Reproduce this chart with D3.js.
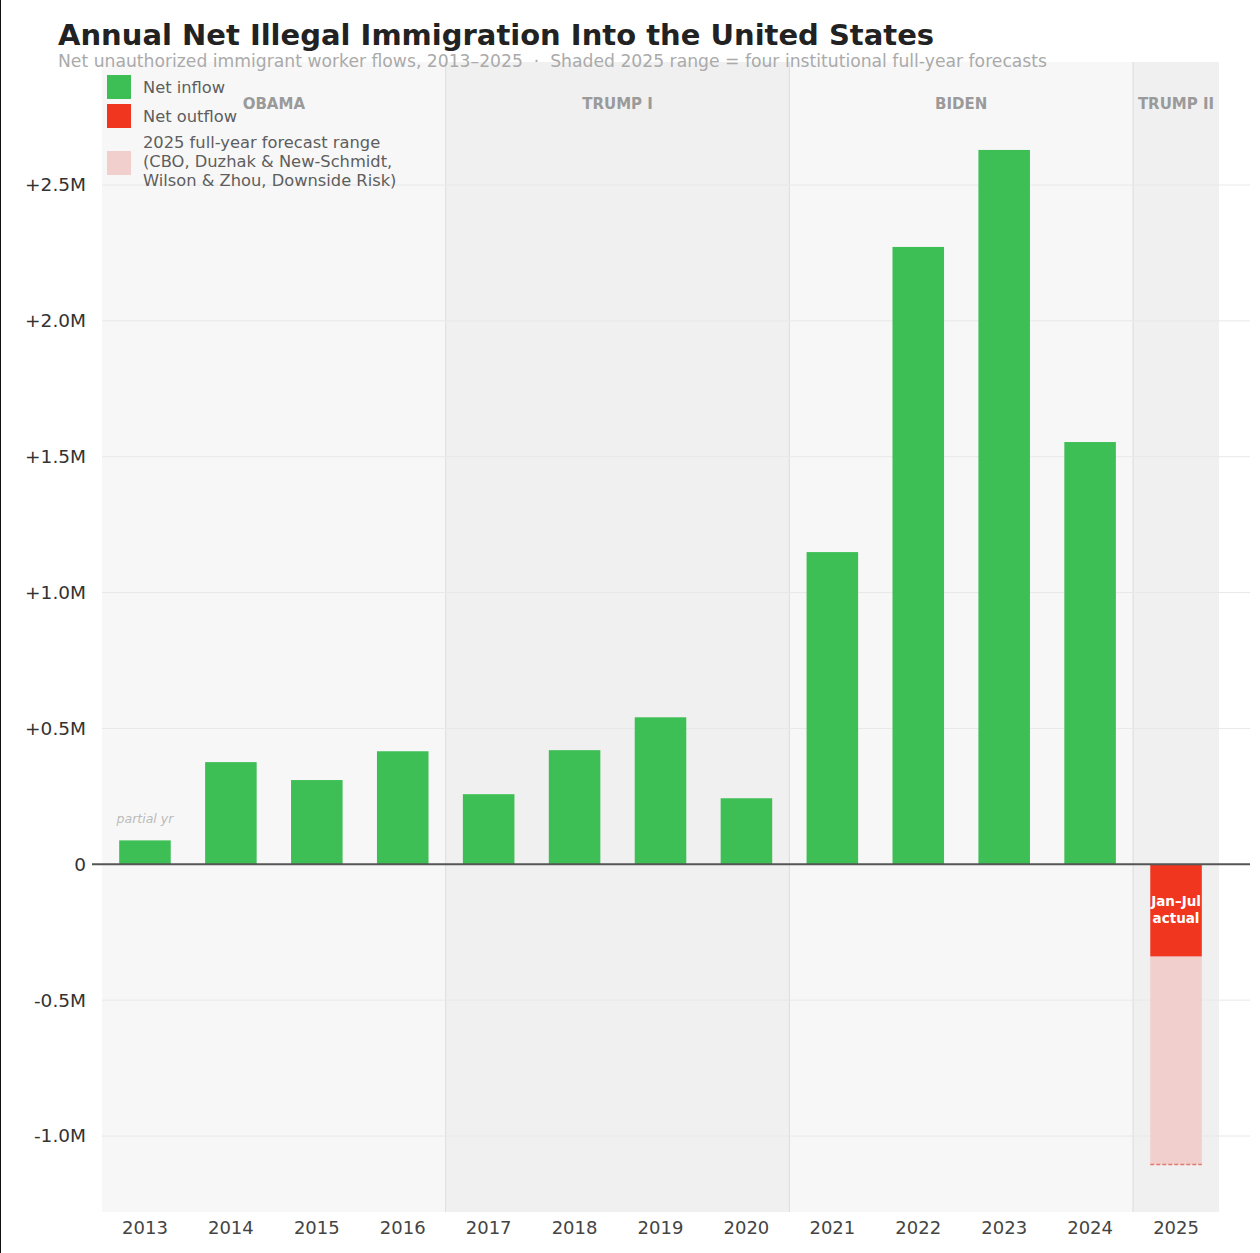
<!DOCTYPE html>
<html>
<head>
<meta charset="utf-8">
<script src="https://cdn.jsdelivr.net/npm/d3@7"></script>
<style>
  body { margin: 0; background: #fff; }
  svg { font-family: "DejaVu Sans", sans-serif; }
</style>
</head>
<body>
<svg width="1260" height="1253"></svg>
<script>
// Data
const years = ['2013', '2014', '2015', '2016', '2017', '2018', '2019', '2020', '2021', '2022', '2023', '2024', '2025'];
const netFlow = [0.088, 0.376, 0.31, 0.416, 0.258, 0.42, 0.541, 0.243, 1.149, 2.272, 2.629, 1.554, -0.339];
const forecastRange = [-0.339, -1.105]; // 2025 full-year forecast range
const eras = [
    { name: 'OBAMA', from: '2013', to: '2016', fill: '#f7f7f7' },
    { name: 'TRUMP I', from: '2017', to: '2020', fill: '#f0f0f0' },
    { name: 'BIDEN', from: '2021', to: '2024', fill: '#f7f7f7' },
    { name: 'TRUMP II', from: '2025', to: '2025', fill: '#f0f0f0' }
];
const yTicks = [-1.0, -0.5, 0, 0.5, 1.0, 1.5, 2.0, 2.5];

const green = '#3dbf55', red = '#f0361f', pink = '#f1cfcd';

const svg = d3.select('svg');

// Scales
const x = d3.scaleBand().domain(years).range([102, 1219]).paddingInner(0.4).paddingOuter(0.2);
const y = d3.scaleLinear().domain([-1.0, 2.5]).range([1136, 185]);
const plotTop = 62, plotBottom = 1212;

// Era background bands
const half = x.step() / 2;
svg.selectAll('.era')
    .data(eras)
  .enter().append('rect')
    .attr('x', d => x(d.from) + x.bandwidth() / 2 - half)
    .attr('y', plotTop)
    .attr('width', d => x(d.to) - x(d.from) + 2 * half)
    .attr('height', plotBottom - plotTop)
    .attr('fill', d => d.fill);

// Era dividers
svg.selectAll('.divider')
    .data(eras.slice(1))
  .enter().append('line')
    .attr('x1', d => x(d.from) + x.bandwidth() / 2 - half)
    .attr('x2', d => x(d.from) + x.bandwidth() / 2 - half)
    .attr('y1', plotTop)
    .attr('y2', plotBottom)
    .attr('stroke', '#dcdcdc')
    .attr('stroke-width', 1);

// Gridlines
svg.selectAll('.grid')
    .data(yTicks.filter(t => t !== 0))
  .enter().append('line')
    .attr('x1', 102)
    .attr('x2', 1250)
    .attr('y1', d => y(d))
    .attr('y2', d => y(d))
    .attr('stroke', '#e8e8e8')
    .attr('stroke-width', 1);

// Era labels
svg.selectAll('.era-label')
    .data(eras)
  .enter().append('text')
    .attr('x', d => (x(d.from) + x(d.to) + x.bandwidth()) / 2)
    .attr('y', 109)
    .attr('text-anchor', 'middle')
    .style('font-size', '15px')
    .style('font-weight', 'bold')
    .attr('fill', '#9a9a9a')
    .text(d => d.name);

// Forecast range
svg.append('rect')
    .attr('x', x('2025'))
    .attr('y', y(forecastRange[0]))
    .attr('width', x.bandwidth())
    .attr('height', y(forecastRange[1]) - y(forecastRange[0]))
    .attr('fill', pink);
svg.append('line')
    .attr('x1', x('2025'))
    .attr('x2', x('2025') + x.bandwidth())
    .attr('y1', y(forecastRange[1]))
    .attr('y2', y(forecastRange[1]))
    .attr('stroke', '#e07a70')
    .attr('stroke-width', 1.5)
    .attr('stroke-dasharray', '4,2');

// Bars
svg.selectAll('.bar')
    .data(years.map((yr, i) => ({ year: yr, value: netFlow[i] })))
  .enter().append('rect')
    .attr('x', d => x(d.year))
    .attr('y', d => y(Math.max(0, d.value)))
    .attr('width', x.bandwidth())
    .attr('height', d => Math.abs(y(d.value) - y(0)))
    .attr('fill', d => d.value >= 0 ? green : red);

// Zero line
svg.append('line')
    .attr('x1', 92)
    .attr('x2', 1250)
    .attr('y1', y(0))
    .attr('y2', y(0))
    .attr('stroke', '#555')
    .attr('stroke-width', 2);

// Annotations
svg.append('text')
    .attr('x', x('2013') + x.bandwidth() / 2)
    .attr('y', y(netFlow[0]) - 17)
    .attr('text-anchor', 'middle')
    .style('font-size', '12.5px')
    .style('font-style', 'italic')
    .attr('fill', '#bbb')
    .text('partial yr');

const jj = svg.append('text')
    .attr('x', x('2025') + x.bandwidth() / 2)
    .attr('text-anchor', 'middle')
    .style('font-size', '13.5px')
    .style('font-weight', 'bold')
    .attr('fill', '#fff');
jj.append('tspan').attr('x', x('2025') + x.bandwidth() / 2).attr('y', 906).text('Jan–Jul');
jj.append('tspan').attr('x', x('2025') + x.bandwidth() / 2).attr('y', 923).text('actual');

// Y axis labels
const fmt = d => d === 0 ? '0' : (d > 0 ? '+' : '') + d.toFixed(1) + 'M';
svg.selectAll('.ylab')
    .data(yTicks)
  .enter().append('text')
    .attr('x', 86)
    .attr('y', d => y(d))
    .attr('dy', '0.35em')
    .attr('text-anchor', 'end')
    .style('font-size', '18.5px')
    .attr('fill', '#333')
    .text(fmt);

// X axis labels
svg.selectAll('.xlab')
    .data(years)
  .enter().append('text')
    .attr('x', d => x(d) + x.bandwidth() / 2)
    .attr('y', 1234)
    .attr('text-anchor', 'middle')
    .style('font-size', '18px')
    .attr('fill', '#444')
    .text(d => d);

// Title
svg.append('text')
    .attr('x', 58)
    .attr('y', 45)
    .style('font-size', '29px')
    .style('font-weight', 'bold')
    .attr('fill', '#222')
    .text('Annual Net Illegal Immigration Into the United States');
svg.append('text')
    .attr('x', 58)
    .attr('y', 67)
    .style('font-size', '17.2px')
    .style('white-space', 'pre')
    .attr('fill', '#aaa')
    .text('Net unauthorized immigrant worker flows, 2013–2025  ·  Shaded 2025 range = four institutional full-year forecasts');

// Legend
const legend = [
    { color: green, lines: ['Net inflow'], y: 75 },
    { color: red, lines: ['Net outflow'], y: 104 },
    { color: pink, lines: ['2025 full-year forecast range', '(CBO, Duzhak & New-Schmidt,', 'Wilson & Zhou, Downside Risk)'], y: 151 }
];
legend.forEach(l => {
    svg.append('rect')
        .attr('x', 107).attr('y', l.y)
        .attr('width', 24).attr('height', 24)
        .attr('fill', l.color);
    const t = svg.append('text')
        .style('font-size', '16.3px')
        .attr('fill', '#5e5e5e');
    const y0 = l.lines.length === 1 ? l.y + 18 : l.y - 3;
    l.lines.forEach((s, i) => {
        t.append('tspan').attr('x', 143).attr('y', y0 + i * 19).text(s);
    });
});

// Left frame line
svg.append('line')
    .attr('x1', 0.5).attr('x2', 0.5).attr('y1', 0).attr('y2', 1253)
    .attr('stroke', '#111').attr('stroke-width', 1);
</script>
</body>
</html>
